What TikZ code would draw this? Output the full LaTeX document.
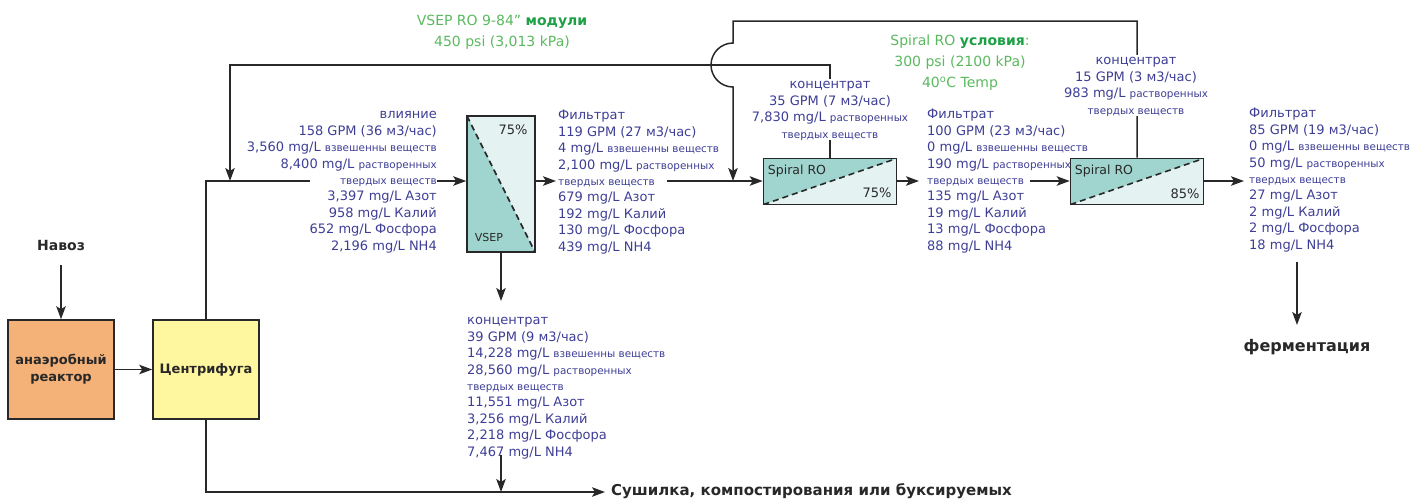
\documentclass[tikz,border=0pt]{standalone}
\usepackage{fontspec}
\setmainfont{DejaVu Sans}
\usetikzlibrary{arrows.meta}
\definecolor{tb}{RGB}{62,62,150}
\definecolor{gr}{RGB}{90,185,95}
\definecolor{grd}{RGB}{30,160,70}
\definecolor{ln}{RGB}{40,40,40}
\definecolor{orng}{RGB}{245,178,120}
\definecolor{ylw}{RGB}{255,246,160}
\definecolor{tealD}{RGB}{160,212,206}
\definecolor{tealL}{RGB}{228,243,241}
\newcommand\sm[1]{{\fontsize{10.4}{16.4}\selectfont #1}}
\newcommand\fst{\rule{0pt}{10pt}}
\begin{document}
\begin{tikzpicture}[x=1pt,y=-1pt,
  line/.style={draw=ln, line width=1.5pt},
  arr/.style={line, -{Stealth[length=13pt,width=9.5pt,inset=3pt]}},
  data/.style={text=tb, font=\fontsize{13}{16.4}\selectfont, inner sep=0pt},
  green/.style={text=gr, font=\fontsize{14}{21}\selectfont, inner sep=0pt, align=center},
  blk/.style={text=ln, font=\bfseries\fontsize{14}{17}\selectfont, inner sep=0pt},
  unit/.style={draw=ln, line width=1.6pt, minimum width=106pt, minimum height=99pt, inner sep=0pt, align=center, font=\bfseries\fontsize{13}{17}\selectfont, text=ln},
  lbl/.style={text=ln, inner sep=0pt, font=\fontsize{12.5}{14}\selectfont},
  vsepbox/.style={draw=ln, line width=1.6pt, minimum width=68pt, minimum height=136pt, inner sep=0pt,
    path picture={
      \fill[tealL] (path picture bounding box.north west) rectangle (path picture bounding box.south east);
      \fill[tealD] (path picture bounding box.north west) -- (path picture bounding box.south east) -- (path picture bounding box.south west) -- cycle;
      \draw[ln, line width=1.6pt, dash pattern=on 6pt off 4pt] (path picture bounding box.north west) -- (path picture bounding box.south east);
    }},
  srobox/.style={draw=ln, line width=1.6pt, minimum width=133pt, minimum height=46pt, inner sep=0pt,
    path picture={
      \fill[tealL] (path picture bounding box.north west) rectangle (path picture bounding box.south east);
      \fill[tealD] (path picture bounding box.north west) -- (path picture bounding box.north east) -- (path picture bounding box.south west) -- cycle;
      \draw[ln, line width=1.6pt, dash pattern=on 6pt off 4pt] (path picture bounding box.south west) -- (path picture bounding box.north east);
    }}
]
\useasboundingbox (0,0) rectangle (1425,501);

% units
\node[unit, fill=orng] (reactor) at (61,369.5) {анаэробный\\реактор};
\node[unit, fill=ylw] (cent) at (206,369.5) {Центрифуга};
\node[blk] (navoz) at (61,245) {Навоз};
\node[vsepbox] (vsep) at (501,184) {};
\node[srobox] (sro1) at (830,181.5) {};
\node[srobox] (sro2) at (1137,181.5) {};
\node[lbl, font=\fontsize{13}{14}\selectfont] (vsepP) at (513,130) {75\%};
\node[lbl, font=\fontsize{11}{13}\selectfont] (vsepL) at (489,237) {VSEP};
\node[lbl] (sro1L) at (797,171) {Spiral RO};
\node[lbl, font=\fontsize{13}{14}\selectfont] (sro1P) at (877,193) {75\%};
\node[lbl] (sro2L) at (1104,171) {Spiral RO};
\node[lbl, font=\fontsize{13}{14}\selectfont] (sro2P) at (1185,194) {85\%};

% green headings
\node[green] (vsepH) at (502,32) {VSEP RO 9-84” {\color{grd}\bfseries модули}\\450 psi (3,013 kPa)};
\node[green] (sroH) at (960,63) {Spiral RO {\color{grd}\bfseries условия}:\\300 psi (2100 kPa)\\40\textsuperscript{o}C Temp};

% coordinates
\coordinate (c1) at (206,181);
\coordinate (gapA) at (310,181);
\coordinate (gapB) at (437,181);
\coordinate (f1a) at (556,181);
\coordinate (f1b) at (667,181);
\coordinate (f2a) at (919,181);
\coordinate (f2b) at (1030,181);
\coordinate (f3a) at (1244,181);
\coordinate (r1a) at (830,65);
\coordinate (r1b) at (230,65);
\coordinate (r1c) at (230,181);
\coordinate (r2a) at (1137,21);
\coordinate (r2b) at (733,21);
\coordinate (r2c) at (733,43);
\coordinate (r2d) at (733,181);
\coordinate (vc1) at (501,301);
\coordinate (vc2) at (501,455);
\coordinate (b1) at (206,492);
\coordinate (b2) at (501,492);
\coordinate (b3) at (605,492);
\coordinate (fe1) at (1297,262);
\coordinate (fe2) at (1297,325);
\coordinate (nv) at (61,265);

% connectors
\draw[arr] (nv) -- (reactor.north);
\draw[arr] (reactor.east) -- (cent.west);
\draw[line] (cent.north) -- (c1) -- (gapA);
\draw[arr] (gapB) -- (vsep.west |- gapB);
\draw[arr] (vsep.east |- f1a) -- (f1a);
\draw[arr] (f1b) -- (sro1.west |- f1b);
\draw[arr] (sro1.east |- f2a) -- (f2a);
\draw[arr] (f2b) -- (sro2.west |- f2b);
\draw[arr] (sro2.east |- f3a) -- (f3a);
\draw[arr] (fe1) -- (fe2);
\draw[arr] (sro1.north) -- (r1a) -- (r1b) -- (r1c);
\draw[arr] (sro2.north) -- (r2a) -- (r2b) -- (r2c) arc[start angle=-90, end angle=-270, radius=22] -- (r2d);
\draw[arr] (vsep.south) -- (vc1);
\draw[arr] (vc2) -- (b2);
\draw[arr] (cent.south) -- (b1) -- (b3);

% data blocks
\node[data, align=right, anchor=north east] (infl) at (437,108.7) {\fst влияние\\158 GPM (36 м3/час)\\3,560 mg/L \sm{взвешенны веществ}\\8,400 mg/L \sm{растворенных}\\\sm{твердых веществ}\\3,397 mg/L Азот\\958 mg/L Калий\\652 mg/L Фосфора\\2,196 mg/L NH4};
\node[data, align=left, anchor=north west] (filt1) at (558,109.7) {\fst Фильтрат\\119 GPM (27 м3/час)\\4 mg/L \sm{взвешенны веществ}\\2,100 mg/L \sm{растворенных}\\\sm{твердых веществ}\\679 mg/L Азот\\192 mg/L Калий\\130 mg/L Фосфора\\439 mg/L NH4};
\node[data, align=left, anchor=north west] (filt2) at (927,108.7) {\fst Фильтрат\\100 GPM (23 м3/час)\\0 mg/L \sm{взвешенны веществ}\\190 mg/L \sm{растворенных}\\\sm{твердых веществ}\\135 mg/L Азот\\19 mg/L Калий\\13 mg/L Фосфора\\88 mg/L NH4};
\node[data, align=left, anchor=north west] (filt3) at (1249,107.7) {\fst Фильтрат\\85 GPM (19 м3/час)\\0 mg/L \sm{взвешенны веществ}\\50 mg/L \sm{растворенных}\\\sm{твердых веществ}\\27 mg/L Азот\\2 mg/L Калий\\2 mg/L Фосфора\\18 mg/L NH4};
\node[data, align=left, anchor=north west] (conc0) at (467,314.7) {\fst концентрат\\39 GPM (9 м3/час)\\14,228 mg/L \sm{взвешенны веществ}\\28,560 mg/L \sm{растворенных}\\\sm{твердых веществ}\\11,551 mg/L Азот\\3,256 mg/L Калий\\2,218 mg/L Фосфора\\7,467 mg/L NH4};
\node[data, align=center, anchor=north, fill=white] (conc1) at (830,78.7) {\fst концентрат\\35 GPM (7 м3/час)\\7,830 mg/L \sm{растворенных}\\\sm{твердых веществ}};
\node[data, align=center, anchor=north, fill=white] (conc2) at (1136,54.7) {\fst концентрат\\15 GPM (3 м3/час)\\983 mg/L \sm{растворенных}\\\sm{твердых веществ}};

% outputs
\node[blk, font=\bfseries\fontsize{16}{18}\selectfont] (ferm) at (1307,347) {ферментация};
\node[blk, font=\bfseries\fontsize{15}{18}\selectfont, anchor=west] (dry) at (611,491) {Сушилка, компостирования или буксируемых};
\end{tikzpicture}
\end{document}
